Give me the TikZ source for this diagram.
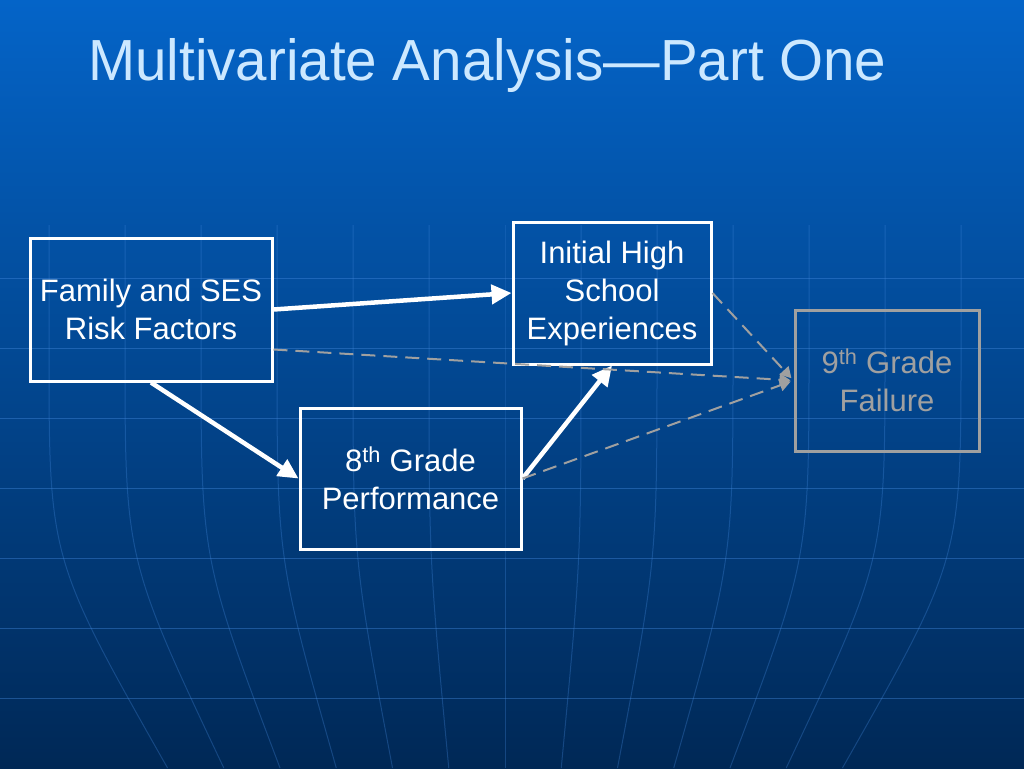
\documentclass[tikz,border=0pt]{standalone}
\usepackage{fontspec}
\setmainfont{Liberation Sans}
\newfontfamily\titlefont[FakeStretch=0.975]{Liberation Sans}
\usetikzlibrary{arrows.meta}
\definecolor{bgtop}{RGB}{4,100,200}
\definecolor{bgmid}{RGB}{0,84,170}
\definecolor{bgbot}{RGB}{0,40,86}
\definecolor{gridc}{RGB}{70,140,225}
\definecolor{titlec}{RGB}{204,232,255}
\definecolor{grayc}{RGB}{160,160,160}
\tikzset{
  box/.style={draw=white, line width=3pt, text=white, align=center,
    font=\fontsize{31}{38}\selectfont, inner sep=0pt},
  graybox/.style={box, draw=grayc, text=grayc},
  solidarrow/.style={draw=white, line width=4.5pt,
    -{Triangle[length=20pt,width=19pt]}},
  dasharrow/.style={draw=grayc, line width=2pt, dash pattern=on 14pt off 8pt,
    -{Triangle[length=11pt,width=12pt]}, shorten >=3pt},
  gridline/.style={draw=gridc, line width=1pt, opacity=0.4}
}
\begin{document}
\begin{tikzpicture}[x=1pt,y=-1pt]
\useasboundingbox (0,0) rectangle (1024,768);
\shade[top color=bgtop, middle color=bgmid, bottom color=bgbot] (0,0) rectangle (1024,768);
% horizontal grid lines
\foreach \yy in {278,348,418,488,558,628,698}
  \draw[gridline] (0,\yy) -- (1024,\yy);
% meridians
\foreach \k in {-6,...,6}{
  \pgfmathsetmacro{\xa}{505+76*\k}
  \pgfmathsetmacro{\xb}{505+76*\k*0.74}
  \draw[gridline, opacity=0.3] (\xa,225) -- (\xa,350) .. controls (\xa,559) .. (\xb,768);
}
% title
\node[anchor=base west, text=titlec, font=\titlefont\fontsize{58}{60}\selectfont, inner sep=0pt] (title) at (88,80) {Multivariate Analysis—Part One};
% boxes
\node[box, minimum width=242pt, minimum height=143pt] (fam) at (151,309.5) {Family and SES\\Risk Factors};
\node[box, minimum width=198pt, minimum height=142pt] (ihs) at (612,293) {Initial High\\School\\Experiences};
\node[box, minimum width=221pt, minimum height=141pt] (g8) at (410.5,478.5) {8\textsuperscript{th} Grade\\Performance};
\node[graybox, minimum width=184pt, minimum height=141pt] (g9) at (887,380.5) {9\textsuperscript{th} Grade\\Failure};
% solid arrows
\draw[solidarrow] (fam.east) -- (ihs.west);
\draw[solidarrow] (fam.south) -- (g8.west);
\draw[solidarrow] (g8.east) -- (ihs.south);
% dashed arrows
\coordinate (famd) at ([yshift=-40pt]fam.east);
\draw[dasharrow] (ihs.east) -- (g9.west);
\draw[dasharrow] (famd) -- (g9.west);
\draw[dasharrow] (g8.east) -- (g9.west);
\end{tikzpicture}
\end{document}
